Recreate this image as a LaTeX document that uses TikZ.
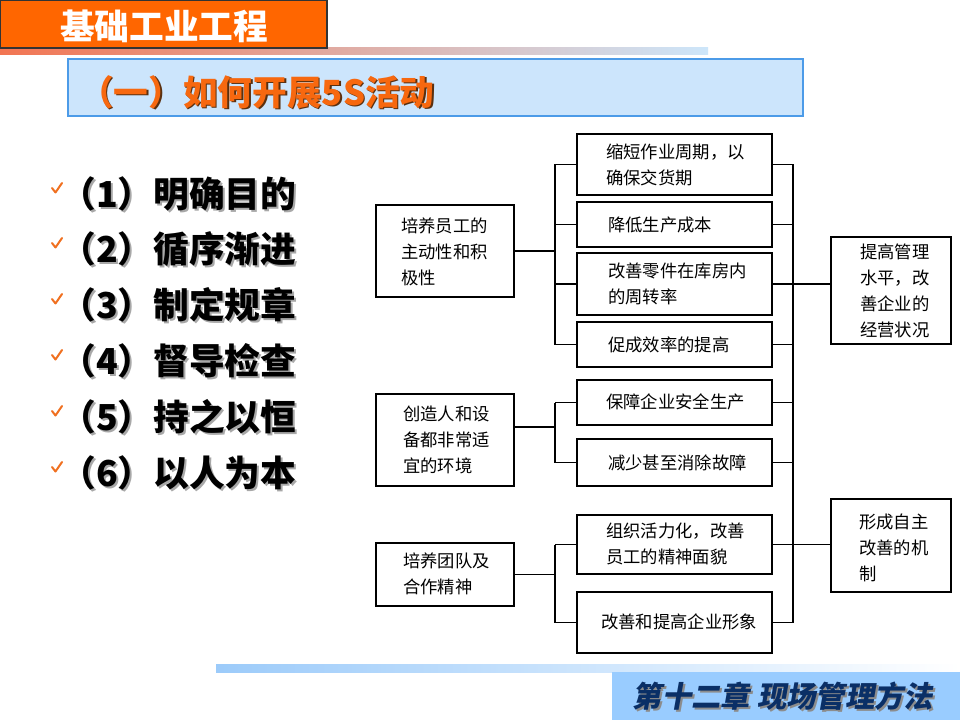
\documentclass[tikz,border=0pt]{standalone}
\usepackage{fontspec}
\newfontfamily\cjk{Noto Sans CJK SC}
\newfontfamily\cjksl[FakeSlant=0.18]{Noto Sans CJK SC}
\usetikzlibrary{fit}
\definecolor{headorange}{HTML}{FF6600}
\definecolor{headborder}{HTML}{333333}
\definecolor{titlefill}{HTML}{CCE5FC}
\definecolor{titleborder}{HTML}{4C9BE8}
\definecolor{titletext}{HTML}{F7680F}
\definecolor{titleshadow}{HTML}{5A3010}
\definecolor{chkorange}{HTML}{F07020}
\definecolor{footfill}{HTML}{99CCFF}
\definecolor{foottext}{HTML}{0A2F66}
\definecolor{gradL}{HTML}{F27552}
\definecolor{gradM}{HTML}{E2C8D6}
\definecolor{gradR}{HTML}{CDE6FA}
\definecolor{footbar}{HTML}{9CCBFA}
\definecolor{listshadow}{HTML}{A8A8A8}
\definecolor{footshadow}{HTML}{8C8C8C}
% text with a drop shadow inside one node
\newcommand\shadowed[3]{\makebox[0pt][l]{\kern#3\raisebox{-#3}{\textcolor{#1}{#2}}}#2}
\tikzset{
  frame/.style={inner sep=0pt, outer sep=0pt},
  box/.style={draw=black, line width=1.2pt, inner sep=0pt, outer sep=0pt, fill=white},
  conn/.style={draw=black, line width=1.2pt},
  dtxt/.style={font=\cjk\fontsize{13}{19.5}\selectfont, align=left, inner sep=0pt, anchor=west},
  listtxt/.style={font=\cjk\bfseries\fontsize{26.8}{26.8}\selectfont, inner sep=0pt, anchor=west},
  chkmark/.style={draw=chkorange, line width=1.5pt, line cap=round, line join=round},
}
\begin{document}
\begin{tikzpicture}[x=0.75pt,y=-0.75pt]
\useasboundingbox (0,0) rectangle (960,720);
\fill[white] (0,0) rectangle (960,720);
% ---------- header ----------
\node[frame, shade, left color=gradL, middle color=gradM, right color=gradR, fit={(0,48) (708,55)}] (topbar) {};
\node[frame, fill=headorange, draw=headborder, line width=1.5pt, fit={(0,0) (327,48)}] (head) {};
\node[font=\cjk\bfseries\fontsize{26}{26}\selectfont, text=white, inner sep=0pt] (headt) at (164,26) {基础工业工程};
% ---------- title ----------
\node[frame, fill=titlefill, draw=titleborder, line width=1.5pt, fit={(68,59) (803,116)}] (tbox) {};
\node[font=\cjk\bfseries\fontsize{26}{26}\selectfont, text=titletext, inner sep=0pt, anchor=west] (ttl) at (79,93) {\shadowed{titleshadow}{（一）如何开展5S活动}{1.2pt}};
% ---------- list ----------
\foreach \i/\t/\y in {1/明确目的/195, 2/循序渐进/250, 3/制定规章/306, 4/督导检查/362, 5/持之以恒/418, 6/以人为本/474}{
  \draw[chkmark] (52,{\y-7}) -- (55.5,{\y-2.5}) -- (62,{\y-12});
  \node[listtxt, text=black] (i\i) at (60,\y) {\shadowed{listshadow}{（\i）\t}{1.5pt}};
}
% ---------- diagram boxes ----------
\node[box, fit={(376,205) (514,297)}] (L1) {};
\node[box, fit={(376,394) (514,486)}] (L2) {};
\node[box, fit={(376,543) (514,606)}] (L3) {};
\node[box, fit={(577,134) (772,195)}] (M1) {};
\node[box, fit={(577,202) (772,247)}] (M2) {};
\node[box, fit={(577,253) (772,315)}] (M3) {};
\node[box, fit={(577,322) (772,367)}] (M4) {};
\node[box, fit={(577,380) (772,425)}] (M5) {};
\node[box, fit={(577,439) (772,486)}] (M6) {};
\node[box, fit={(577,515) (772,574)}] (M7) {};
\node[box, fit={(577,592) (772,653)}] (M8) {};
\node[box, fit={(831,237) (951,344)}] (R1) {};
\node[box, fit={(831,499) (951,592)}] (R2) {};
% ---------- texts ----------
\node[dtxt] (L1t) at (401,252) {培养员工的\\主动性和积\\极性};
\node[dtxt] (L2t) at (403,440) {创造人和设\\备都非常适\\宜的环境};
\node[dtxt] (L3t) at (403,574) {培养团队及\\合作精神};
\node[dtxt] (M1t) at (606,165) {缩短作业周期，以\\确保交货期};
\node[dtxt] (M2t) at (608,225) {降低生产成本};
\node[dtxt] (M3t) at (608,284) {改善零件在库房内\\的周转率};
\node[dtxt] (M4t) at (608,345) {促成效率的提高};
\node[dtxt] (M5t) at (606,402) {保障企业安全生产};
\node[dtxt] (M6t) at (608,463) {减少甚至消除故障};
\node[dtxt] (M7t) at (606,544) {组织活力化，改善\\员工的精神面貌};
\node[dtxt] (M8t) at (601,622) {改善和提高企业形象};
\node[dtxt] (R1t) at (860,291) {提高管理\\水平，改\\善企业的\\经营状况};
\node[dtxt] (R2t) at (859,548) {形成自主\\改善的机\\制};
% ---------- connectors ----------
\coordinate (lb) at (555,0);
\coordinate (rb) at (793,0);
\draw[conn] (L1.east) -- (L1.east -| lb);
\draw[conn] (M1.west -| lb) -- (M4.west -| lb);
\foreach \m in {M1,M2,M3,M4} \draw[conn] (\m.west) -- (\m.west -| lb);
\draw[conn] ([yshift=9.75pt]L2.east) -- ([yshift=9.75pt]L2.east -| lb);
\draw[conn] (M5.west -| lb) -- (M6.west -| lb);
\foreach \m in {M5,M6} \draw[conn] (\m.west) -- (\m.west -| lb);
\draw[conn] (L3.east) -- (L3.east -| lb);
\draw[conn] (M7.west -| lb) -- (M8.west -| lb);
\foreach \m in {M7,M8} \draw[conn] (\m.west) -- (\m.west -| lb);
\draw[conn] (M1.east -| rb) -- (M8.east -| rb);
\foreach \m in {M1,M2,M3,M4,M5,M6,M7,M8} \draw[conn] (\m.east) -- (\m.east -| rb);
\draw[conn] (M3.east -| rb) -- (M3.east -| R1.west);
\draw[conn] (M7.east -| rb) -- (M7.east -| R2.west);
% ---------- footer ----------
\node[frame, shade, left color=footbar, right color=white, fit={(216,664) (960,672)}] (botbar) {};
\node[frame, fill=footfill, fit={(612,672) (960,720)}] (foot) {};
\node[font=\cjksl\bfseries\fontsize{22}{22}\selectfont, text=foottext, inner sep=0pt] (foott) at (783,697) {\shadowed{footshadow}{第十二章 现场管理方法}{1.5pt}};
\end{tikzpicture}
\end{document}
